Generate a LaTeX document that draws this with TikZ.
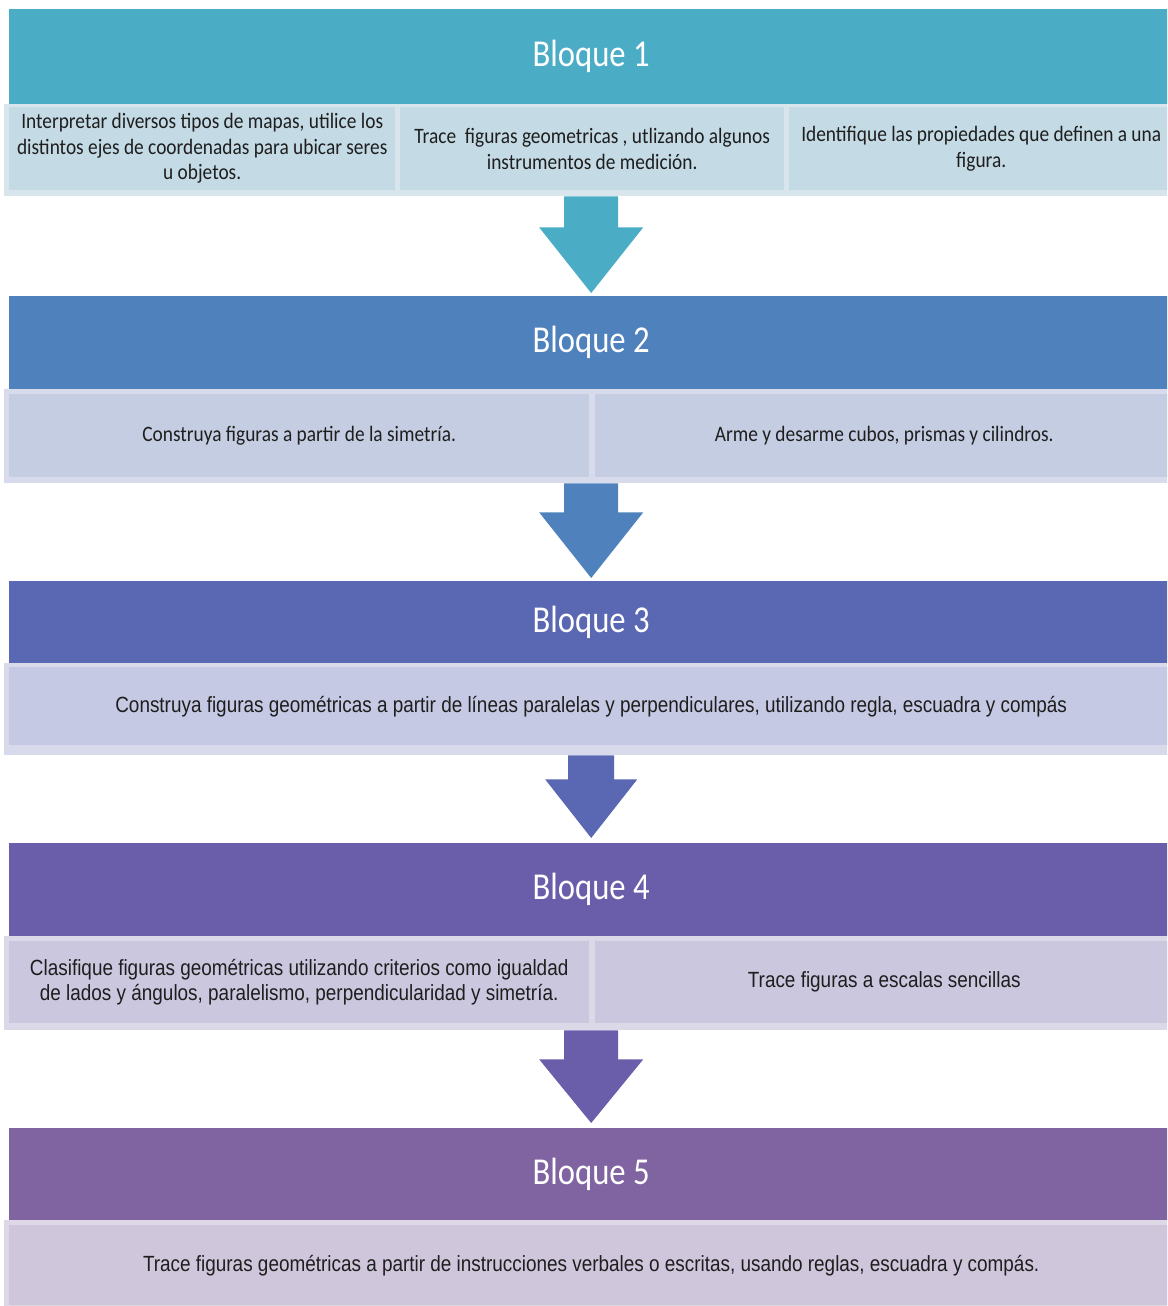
\documentclass[tikz,border=0pt]{standalone}
\usepackage{fontspec}
\setmainfont{Carlito}
\newfontfamily\hdrfont[FakeStretch=0.86]{Carlito}
\newfontfamily\bodyfont[FakeStretch=0.88]{Carlito}
\newfontfamily\narrowfont[FakeStretch=0.86]{Liberation Sans}
\usetikzlibrary{calc}
\definecolor{hA}{HTML}{4BACC6}
\definecolor{hB}{HTML}{4F81BD}
\definecolor{hC}{HTML}{5A67B3}
\definecolor{hD}{HTML}{6A5EAB}
\definecolor{hE}{HTML}{8063A1}
\definecolor{cA}{HTML}{C4DAE5}
\definecolor{cB}{HTML}{C5CDE2}
\definecolor{cC}{HTML}{C6C9E3}
\definecolor{cD}{HTML}{CBC7DF}
\definecolor{cE}{HTML}{CFC6DC}
\definecolor{fA}{HTML}{D8E5EC}
\definecolor{fB}{HTML}{D7DBEB}
\definecolor{fC}{HTML}{D8DAEC}
\definecolor{fD}{HTML}{DBD8E8}
\definecolor{fE}{HTML}{DDD7E6}
\definecolor{txt}{HTML}{1E1E1E}
\begin{document}
\begin{tikzpicture}[x=1pt,y=-1pt,
  hdr/.style={rectangle, inner sep=0pt, anchor=north west, text=white,
    minimum width=1164pt, font=\hdrfont\fontsize{38}{40}\selectfont},
  frm/.style={rectangle, inner sep=0pt, anchor=north west, minimum width=1174pt},
  cell/.style={rectangle, inner sep=0pt, anchor=north west, align=center, text=txt},
  tA/.style={font=\bodyfont\fontsize{22}{25.5}\selectfont},
  tB/.style={font=\narrowfont\fontsize{22}{25}\selectfont}]
\useasboundingbox (0,0) rectangle (1167,1306);
\clip (0,0) rectangle (1167,1306);

% Bloque 1
\node[hdr, fill=hA, minimum height=95pt] (h1) at (9,9) {Bloque 1};
\node[frm, fill=fA, minimum height=92pt] (r1) at (4,104) {};
\node[cell, tA, fill=cA, minimum width=386pt, minimum height=83pt] (c11) at (9,107)
  {Interpretar diversos tipos de mapas, utilice los\\distintos ejes de coordenadas para ubicar seres\\u objetos.};
\node[cell, tA, fill=cA, minimum width=384pt, minimum height=83pt] (c12) at (400,107)
  {Trace \ figuras geometricas , utlizando algunos\\instrumentos de medición.};
\node[cell, tA, fill=cA, minimum width=384pt, minimum height=83pt] (c13) at (789,107)
  {Identifique las propiedades que definen a una\\figura.};

% Bloque 2
\node[hdr, fill=hB, minimum height=93pt] (h2) at (9,296) {Bloque 2};
\node[frm, fill=fB, minimum height=94pt] (r2) at (4,389) {};
\node[cell, tA, fill=cB, minimum width=580pt, minimum height=83pt] (c21) at (9,394)
  {Construya figuras a partir de la simetría.};
\node[cell, tA, fill=cB, minimum width=578pt, minimum height=83pt] (c22) at (595,394)
  {Arme y desarme cubos, prismas y cilindros.};

% Bloque 3
\node[hdr, fill=hC, minimum height=82pt] (h3) at (9,581) {Bloque 3};
\node[frm, fill=fC, minimum height=92pt] (r3) at (4,663) {};
\node[cell, tB, fill=cC, minimum width=1164pt, minimum height=78pt] (c31) at (9,667)
  {Construya figuras geométricas a partir de líneas paralelas y perpendiculares, utilizando regla, escuadra y compás};

% Bloque 4
\node[hdr, fill=hD, minimum height=93pt] (h4) at (9,843) {Bloque 4};
\node[frm, fill=fD, minimum height=94pt] (r4) at (4,936) {};
\node[cell, tB, fill=cD, minimum width=580pt, minimum height=82pt] (c41) at (9,941)
  {Clasifique figuras geométricas utilizando criterios como igualdad\\de lados y ángulos, paralelismo, perpendicularidad y simetría.};
\node[cell, tB, fill=cD, minimum width=578pt, minimum height=82pt] (c42) at (595,941)
  {Trace figuras a escalas sencillas};

% Bloque 5
\node[hdr, fill=hE, minimum height=92pt] (h5) at (9,1128) {Bloque 5};
\node[frm, fill=fE, minimum height=95pt] (r5) at (4,1220) {};
\node[cell, tB, fill=cE, minimum width=1164pt, minimum height=80pt] (c51) at (9,1225)
  {Trace figuras geométricas a partir de instrucciones verbales o escritas, usando reglas, escuadra y compás.};

% arrows
\fill[hA] ($(r1.south)+(-27,0)$) -- ($(r1.south)+(27,0)$) -- ($(r1.south)+(27,31)$)
  -- ($(r1.south)+(52,31)$) -- ($(h2.north)+(0,-3)$) -- ($(r1.south)+(-52,31)$)
  -- ($(r1.south)+(-27,31)$) -- cycle;
\fill[hB] ($(r2.south)+(-27,0)$) -- ($(r2.south)+(27,0)$) -- ($(r2.south)+(27,29)$)
  -- ($(r2.south)+(52,29)$) -- ($(h3.north)+(0,-3)$) -- ($(r2.south)+(-52,29)$)
  -- ($(r2.south)+(-27,29)$) -- cycle;
\fill[hC] ($(r3.south)+(-23,0)$) -- ($(r3.south)+(23,0)$) -- ($(r3.south)+(23,24)$)
  -- ($(r3.south)+(46,24)$) -- ($(h4.north)+(0,-5)$) -- ($(r3.south)+(-46,24)$)
  -- ($(r3.south)+(-23,24)$) -- cycle;
\fill[hD] ($(r4.south)+(-27,0)$) -- ($(r4.south)+(27,0)$) -- ($(r4.south)+(27,29)$)
  -- ($(r4.south)+(52,29)$) -- ($(h5.north)+(0,-5)$) -- ($(r4.south)+(-52,29)$)
  -- ($(r4.south)+(-27,29)$) -- cycle;
\end{tikzpicture}
\end{document}
